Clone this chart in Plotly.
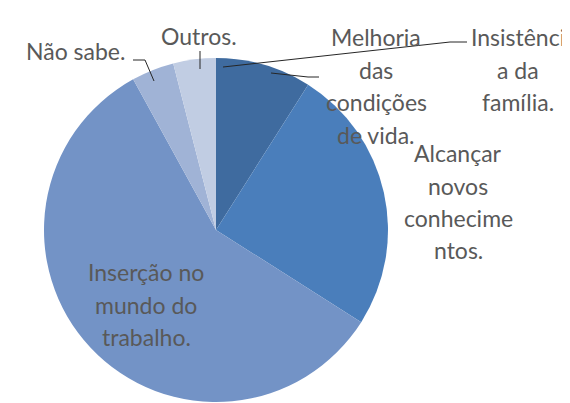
import plotly.graph_objects as go

W, H = 570, 403

# slices, clockwise from 12 o'clock
categories = ['Insistência da família.', 'Melhoria das condições de vida.',
              'Alcançar novos conhecimentos.', 'Inserção no mundo do trabalho.',
              'Não sabe.', 'Outros.']
values = [0, 9, 25, 58, 4, 4]
colors = ['#2F5486', '#3F6B9F', '#4A7EBB', '#7393C6', '#A0B3D6', '#C1CDE3']

# label text split in lines as in the reference
label_lines = [
    ['Insistênci', 'a da', 'família.'],
    ['Melhoria', 'das', 'condições', 'de vida.'],
    ['Alcançar', 'novos', 'conhecime', 'ntos.'],
    ['Inserção no', 'mundo do', 'trabalho.'],
    ['Não sabe.'],
    ['Outros.'],
]
# first-line centre of every label (pixels)
label_pos = [(510, 29), (368, 29), (450, 145), (138, 264), (67, 43), (191, 28)]
line_gap = 32.5

# leader lines (pixels)
leaders = [
    [(215, 59), (442, 34), (459, 34)],
    [(263, 65), (300, 69), (311, 69)],
    [(146, 73), (137, 52), (125, 52)],
    [(192, 61), (192, 43)],
]


def px(x):
    return x / W


def py(y):
    return 1 - y / H


# plotly draws the pie a few px right/down of the domain centre, so compensate
cx, cy, r = 208, 222, 172

fig = go.Figure(go.Pie(
    labels=categories, values=values, sort=False, direction='clockwise', rotation=0,
    marker=dict(colors=colors, line=dict(width=0)), textinfo='none', hoverinfo='label+percent',
    domain=dict(x=[px(cx - r), px(cx + r)], y=[max(0, py(cy + r)), py(cy - r)]),
))

for lines, (lx, ly) in zip(label_lines, label_pos):
    for i, t in enumerate(lines):
        fig.add_annotation(text=t, x=px(lx), y=py(ly + i * line_gap), xref='paper', yref='paper',
                           showarrow=False, xanchor='center', yanchor='middle',
                           font=dict(family='Lato', size=23, color='#595959'))

for pts in leaders:
    for (x0, y0), (x1, y1) in zip(pts[:-1], pts[1:]):
        fig.add_shape(type='line', xref='paper', yref='paper', x0=px(x0), y0=py(y0), x1=px(x1), y1=py(y1),
                      line=dict(color='#262626', width=1))

fig.update_layout(width=W, height=H, margin=dict(l=0, r=0, t=0, b=0), showlegend=False,
                  paper_bgcolor='white', plot_bgcolor='white')

fig.write_html("out.html")
